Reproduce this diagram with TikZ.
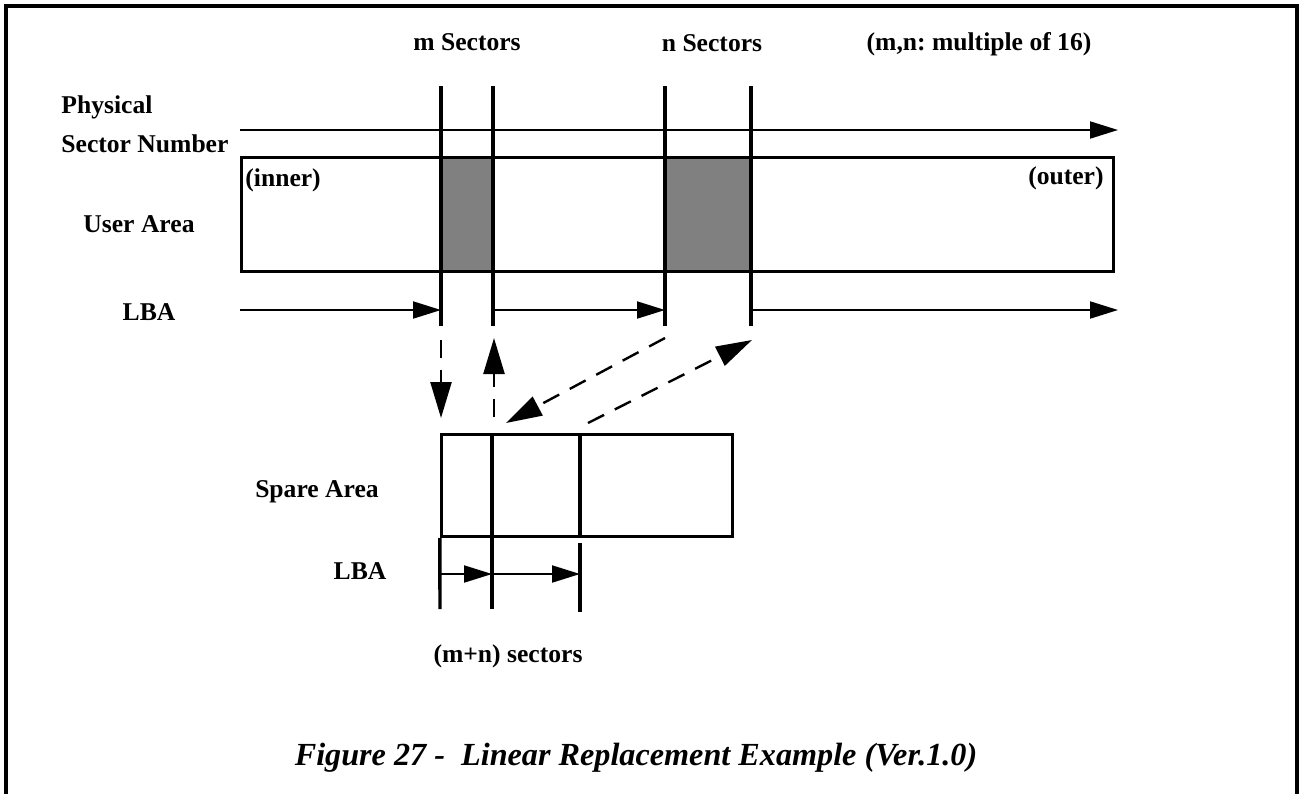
\documentclass[tikz,border=0pt]{standalone}
\usepackage{fontspec}
\setmainfont{Liberation Serif}
\frenchspacing
\usetikzlibrary{arrows.meta,positioning,backgrounds}

\begin{document}
\begin{tikzpicture}[
  x=0.5pt, y=-0.5pt,
  lbl/.style={font=\bfseries\fontsize{12.8}{15}\selectfont, inner sep=0pt},
  caption/.style={font=\bfseries\itshape\fontsize{16.1}{19}\selectfont, inner sep=0pt},
  area/.style={rectangle, draw, line width=1.7pt, inner sep=0pt},
  bound/.style={line width=1.7pt},
  frame/.style={line width=2pt},
  arrow/.style={-{Triangle[length=14pt,width=8.5pt]}, line width=1pt},
  remap/.style={-{Triangle[length=18pt,width=10.5pt]}, line width=1.2pt, dash pattern=on 9pt off 6pt}
]
  \useasboundingbox (0,0) rectangle (1307,794);
  \draw[frame] (6,794) -- (6,6) -- (1297,6) -- (1297,794);

  % labels
  \node[lbl, anchor=base] (msec) at (467,50) {m Sectors};
  \node[lbl, anchor=base] (nsec) at (712,51) {n Sectors};
  \node[lbl, anchor=base] (mult) at (979,50) {(m,n: multiple of 16)};
  \node[lbl, anchor=base west] (phys) at (61,113) {Physical};
  \node[lbl, anchor=base west] (psn) at (61,152) {Sector Number};
  \node[lbl, anchor=base] (ualbl) at (139,232) {User Area};
  \node[lbl, anchor=base] (lbaU) at (149,320) {LBA};
  \node[lbl, anchor=base] (salbl) at (317,497) {Spare Area};
  \node[lbl, anchor=base] (lbaS) at (360,579) {LBA};
  \node[lbl, anchor=base] (mnsec) at (508,662) {(m+n) sectors};

  % user area
  \node[area, minimum width=436pt, minimum height=57pt] (user) at (677.5,214.5) {};
  \node[lbl, anchor=base west] (inner) at (245,186) {(inner)};
  \node[lbl, anchor=base east] (outer) at (1104,184) {(outer)};

  % sector boundaries
  \foreach \name/\x in {mA/441, mB/493, nA/665, nB/751} {
    \coordinate (\name-top) at (\x,86);
    \coordinate (\name-bot) at (\x,326);
    \draw[bound] (\name-top) -- (\name-bot);
  }
  \begin{scope}[on background layer]
    \fill[gray] (mA-top |- user.north) rectangle (mB-top |- user.south);
    \fill[gray] (nA-top |- user.north) rectangle (nB-top |- user.south);
  \end{scope}

  % physical sector number
  \coordinate (psn0) at (240,130);
  \coordinate (psn1) at (1118,130);
  \draw[arrow] (psn0) -- (psn1);

  % LBA (user area)
  \coordinate (lba0) at (240,310);
  \coordinate (lba1) at (1118,310);
  \draw[arrow] (lba0) -- (mA-top |- lba0);
  \draw[arrow] (mB-top |- lba0) -- (nA-top |- lba0);
  \draw[arrow] (nB-top |- lba0) -- (lba1);

  % spare area
  \node[area, minimum width=145.5pt, minimum height=51pt] (spare) at (587,485.5) {};
  \coordinate (sp0) at (440,609);
  \coordinate (sp1) at (492,609);
  \coordinate (sp2) at (580,612);
  \coordinate (sp2a) at (580,543);
  \draw[bound] (spare.south west) -- (sp0);
  \draw[bound] (sp1 |- spare.north) -- (sp1);
  \draw[bound] (sp2 |- spare.north) -- (sp2 |- spare.south);
  \draw[bound] (sp2a) -- (sp2);
  \coordinate (lbaS0) at (440,574);
  \draw[arrow] (lbaS0) -- (sp1 |- lbaS0);
  \draw[arrow] (sp1 |- lbaS0) -- (sp2 |- lbaS0);

  % replacement
  \coordinate (rmA0) at (441,340);
  \coordinate (rmA1) at (441,418);
  \coordinate (rmB0) at (494,417);
  \coordinate (rmB1) at (494,338);
  \coordinate (rnA0) at (665,338);
  \coordinate (rnA1) at (506,423);
  \coordinate (rnB0) at (588,423);
  \coordinate (rnB1) at (752,340);
  \draw[remap] (rmA0) -- (rmA1);
  \draw[remap] (rmB0) -- (rmB1);
  \draw[remap] (rnA0) -- (rnA1);
  \draw[remap] (rnB0) -- (rnB1);

  \node[caption, anchor=base] (cap) at (636,765) {Figure 27 -\ \ Linear Replacement Example (Ver.1.0)};
\end{tikzpicture}
\end{document}
